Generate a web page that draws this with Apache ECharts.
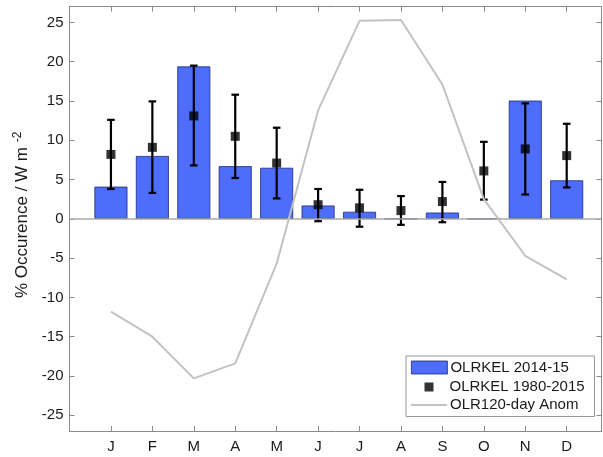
<!DOCTYPE html>
<html><head><meta charset="utf-8">
<script src="https://cdn.jsdelivr.net/npm/echarts@6/dist/echarts.min.js"></script>
<style>html,body{margin:0;padding:0;background:#fff}#c{width:603px;height:457px}</style>
</head><body><div id="c"></div>
<script>
const months = ['J','F','M','A','M','J','J','A','S','O','N','D'];
const monthPos = [1,2,3,4,5,6,7,8,9,10,11,12];
const occurrence2014 = [4.1, 8.0, 19.4, 6.7, 6.5, 1.7, 0.9, 0, 0.8, 0, 15.05, 4.9];
const climMean = [8.2, 9.1, 13.1, 10.5, 7.1, 1.8, 1.4, 1.05, 2.2, 6.1, 8.9, 8.05];
const climLow = [3.8, 3.3, 6.8, 5.2, 2.6, -0.3, -1.0, -0.76, -0.43, 2.45, 3.1, 4.0];
const climHigh = [12.6, 14.95, 19.5, 15.8, 11.6, 3.8, 3.7, 2.9, 4.7, 9.8, 14.7, 12.1];
const olrAnom = [-11.8, -15.0, -20.3, -18.4, -5.7, 13.8, 25.2, 25.3, 17.1, 2.5, -4.7, -7.7];
const yTicks = [-25,-20,-15,-10,-5,0,5,10,15,20,25];

const FONT = "'Liberation Sans', Arial, Helvetica, sans-serif";
const AX = '#8a8a8a';
const TXT = '#1a1a1a';
const GRAY = '#c2c2c2';

const barData = monthPos.map((m,i)=>[m, occurrence2014[i]]);
const meanData = monthPos.map((m,i)=>[m, climMean[i]]);
const errData = monthPos.map((m,i)=>[m, climLow[i], climHigh[i]]);
const lineData = monthPos.map((m,i)=>[m, olrAnom[i]]);

function xAx(pos, showLabel){
  return {
    type:'value', position:pos, min:0, max:12.84,
    axisLine:{show:true, onZero:false, lineStyle:{color:AX, width:1}},
    axisTick:{show:true, inside:true, length:5, customValues:monthPos, lineStyle:{color:AX}},
    axisLabel:{show:showLabel, customValues:monthPos, margin:8, fontSize:15, color:TXT, fontFamily:FONT,
      formatter:(v)=>months[Math.round(v)-1]||''},
    splitLine:{show:false}
  };
}
function yAx(pos, showLabel, withName){
  const a = {
    type:'value', position:pos, min:-27, max:27,
    axisLine:{show:true, onZero:false, lineStyle:{color:AX, width:1}},
    axisTick:{show:true, inside:true, length:5, customValues:yTicks, lineStyle:{color:AX}},
    axisLabel:{show:showLabel, customValues:yTicks, margin:6, fontSize:15, color:TXT, fontFamily:FONT},
    splitLine:{show:false}
  };
  if (withName){
    a.name = '{a|% Occurence / W m }{b|-2}';
    a.nameLocation = 'middle';
    a.nameRotate = 90;
    a.nameGap = 33;
    a.nameTextStyle = {padding:[0,0,0,8], rich:{
      a:{fontSize:17, color:TXT, fontFamily:FONT, lineHeight:21},
      b:{fontSize:12, color:TXT, fontFamily:FONT, verticalAlign:'top'}
    }};
  }
  return a;
}

const legText = {fontSize:15, color:TXT, fontFamily:FONT};
const chart = echarts.init(document.getElementById('c'), null, {renderer:'canvas'});
chart.setOption({
  animation:false,
  backgroundColor:'#fff',
  grid:{left:69.5, right:1.5, top:6.7, bottom:26, containLabel:false, outerBoundsMode:'none'},
  xAxis:[xAx('bottom', true), xAx('top', false)],
  yAxis:[yAx('left', true, true), yAx('right', false, false)],
  legend:[
    {data:[{name:'OLRKEL 2014-15', icon:'rect', itemStyle:{color:'#4d6dfa', borderColor:'#1c2a7a', borderWidth:0.8}}],
     left:411, top:360, padding:0, itemWidth:36, itemHeight:13, itemGap:0,
     textStyle:Object.assign({padding:[0,0,0,-2]}, legText), selectedMode:false},
    {data:[{name:'OLRKEL 1980-2015', icon:'rect', itemStyle:{color:'#000'}}], left:424.5, top:379.5, padding:0,
     itemWidth:9, itemHeight:9, textStyle:Object.assign({padding:[0,0,0,11]}, legText), selectedMode:false},
    {data:[{name:'OLR120-day Anom', icon:'rect', itemStyle:{color:GRAY}}], left:411, top:397.5, padding:0,
     itemWidth:36, itemHeight:2, textStyle:Object.assign({padding:[0,0,0,-2]}, legText), selectedMode:false}
  ],
  graphic:[{type:'rect', left:405.5, top:355.5, shape:{width:188.5, height:60.5},
    style:{fill:'#fff', stroke:'#999', lineWidth:1}, z:0}],
  series:[
    {name:'OLRKEL 2014-15', type:'bar', data:barData, barWidth:33, xAxisIndex:0, yAxisIndex:0,
     itemStyle:{color:'#4d6dfa', borderColor:'#1c2a7a', borderWidth:0.8}, z:2,
     markLine:{silent:true, symbol:['none','none'], label:{show:false},
       lineStyle:{color:'#a8a8a8', width:1.5, type:'solid'}, data:[{yAxis:0}]}},
    {name:'errbars', type:'custom', data:errData, z:3,
     renderItem:function(params, api){
       const x = api.value(0);
       const pLo = api.coord([x, api.value(1)]);
       const pHi = api.coord([x, api.value(2)]);
       const hw = 3.8;
       const st = {stroke:'#000', lineWidth:2.2};
       return {type:'group', children:[
         {type:'line', shape:{x1:pLo[0], y1:pLo[1], x2:pHi[0], y2:pHi[1]}, style:st},
         {type:'line', shape:{x1:pLo[0]-hw, y1:pLo[1], x2:pLo[0]+hw, y2:pLo[1]}, style:st},
         {type:'line', shape:{x1:pHi[0]-hw, y1:pHi[1], x2:pHi[0]+hw, y2:pHi[1]}, style:st}
       ]};
     }},
    {name:'OLRKEL 1980-2015', type:'scatter', data:meanData, symbol:'rect', symbolSize:9,
     itemStyle:{color:'#000'}, z:4},
    {name:'OLR120-day Anom', type:'line', data:lineData, symbol:'none', showSymbol:false,
     lineStyle:{color:GRAY, width:2}, itemStyle:{color:GRAY}, z:5}
  ]
});
</script></body></html>
